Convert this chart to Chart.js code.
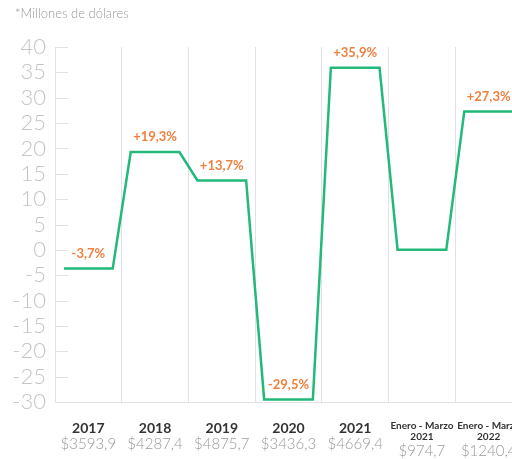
<!DOCTYPE html>
<html>
<head>
<meta charset="utf-8">
<script src="https://cdn.jsdelivr.net/npm/chart.js@4.4.1/dist/chart.umd.min.js"></script>
<style>
  html, body { margin: 0; padding: 0; background: #fff; overflow: hidden; }
  #wrap { position: relative; width: 512px; height: 459px; overflow: hidden; }
  #note {
    position: absolute; left: 15px; top: 5px;
    font: 300 13px 'Lato', 'Open Sans', sans-serif; color: #999;
  }
  canvas { position: absolute; left: 0; top: 0; }
</style>
</head>
<body>
<div id="wrap">
  <canvas id="chart" width="540" height="459"></canvas>
  <div id="note">*Millones de dólares</div>
</div>
<script>
'use strict';

/* ── DATA ── */
const categories   = ['2017', '2018', '2019', '2020', '2021', ['Enero - Marzo', '2021'], ['Enero - Marzo', '2022']];
const amounts      = ['$3593,9', '$4287,4', '$4875,7', '$3436,3', '$4669,4', '$974,7', '$1240,4'];
const growth       = [-3.7, 19.3, 13.7, -29.5, 35.9, 0, 27.3];
const growthLabels = ['-3,7%', '+19,3%', '+13,7%', '-29,5%', '+35,9%', '', '+27,3%'];
const yTicks       = [-30, -25, -20, -15, -10, -5, 0, 5, 10, 15, 20, 25, 30, 35, 40];

/* ── STYLE ── */
const GREEN  = '#22b97a';
const ORANGE = '#ef8040';
const GRID   = '#e2e2e2';
const FONT   = "'Lato', 'Open Sans', sans-serif";
const INSET  = 0.135; // flat part of each step, as share of a category slot

// two points per category -> flat step inside each slot
const points = [];
growth.forEach((v, i) => {
  points.push({ x: i + INSET, y: v });
  points.push({ x: i + 1 - INSET, y: v });
});

/* ── custom drawing: inner y ticks, value labels, x labels ── */
const decorations = {
  id: 'decorations',
  afterDraw(chart) {
    const { ctx, scales: { x, y } } = chart;
    ctx.save();

    // short tick marks pointing into the plot
    ctx.strokeStyle = GRID;
    ctx.lineWidth = 1;
    yTicks.forEach(t => {
      const py = Math.round(y.getPixelForValue(t)) + 0.5;
      ctx.beginPath();
      ctx.moveTo(x.left, py);
      ctx.lineTo(x.left + 13, py);
      ctx.stroke();
    });

    // percentage labels above each step
    ctx.fillStyle = ORANGE;
    ctx.font = `bold 13px ${FONT}`;
    ctx.textAlign = 'center';
    ctx.textBaseline = 'middle';
    growth.forEach((v, i) => {
      if (!growthLabels[i]) return;
      ctx.fillText(growthLabels[i], x.getPixelForValue(i + 0.5), y.getPixelForValue(v) - 15);
    });

    // category labels under the plot
    categories.forEach((c, i) => {
      const cx = x.getPixelForValue(i + 0.5);
      if (Array.isArray(c)) {
        ctx.fillStyle = '#333';
        ctx.font = `bold 10px ${FONT}`;
        ctx.fillText(c[0], cx, 426);
        ctx.fillText(c[1], cx, 437);
        ctx.fillStyle = '#9a9a9a';
        ctx.font = `300 15px ${FONT}`;
        ctx.fillText(amounts[i], cx, 451);
      } else {
        ctx.fillStyle = '#333';
        ctx.font = `bold 14px ${FONT}`;
        ctx.fillText(c, cx, 428);
        ctx.fillStyle = '#9a9a9a';
        ctx.font = `300 15px ${FONT}`;
        ctx.fillText(amounts[i], cx, 444);
      }
    });

    ctx.restore();
  },
};

new Chart(document.getElementById('chart'), {
  type: 'line',
  data: {
    datasets: [{
      data: points,
      borderColor: GREEN,
      borderWidth: 2.5,
      pointRadius: 0,
      tension: 0,
      fill: false,
    }],
  },
  options: {
    responsive: false,
    animation: false,
    layout: { padding: { top: 47, right: 18, bottom: 0, left: 0 } },
    plugins: {
      legend: { display: false },
      tooltip: { enabled: false },
    },
    scales: {
      x: {
        type: 'linear',
        min: 0,
        max: categories.length,
        afterFit: s => { s.height = 57; },
        afterBuildTicks: s => { s.ticks = categories.map((_, i) => ({ value: i })).concat([{ value: categories.length }]); },
        ticks: { display: false },
        grid: { color: GRID, drawTicks: false, lineWidth: 1 },
        border: { color: GRID },
      },
      y: {
        min: -30,
        max: 40,
        afterFit: s => { s.width = 55; },
        afterBuildTicks: s => { s.ticks = yTicks.map(v => ({ value: v })); },
        ticks: {
          autoSkip: false,
          color: '#c4c4c4',
          padding: 9,
          font: { family: FONT, size: 22, weight: '300' },
        },
        grid: { drawOnChartArea: false, drawTicks: false },
        border: { color: GRID },
      },
    },
  },
  plugins: [decorations],
});
</script>
</body>
</html>
